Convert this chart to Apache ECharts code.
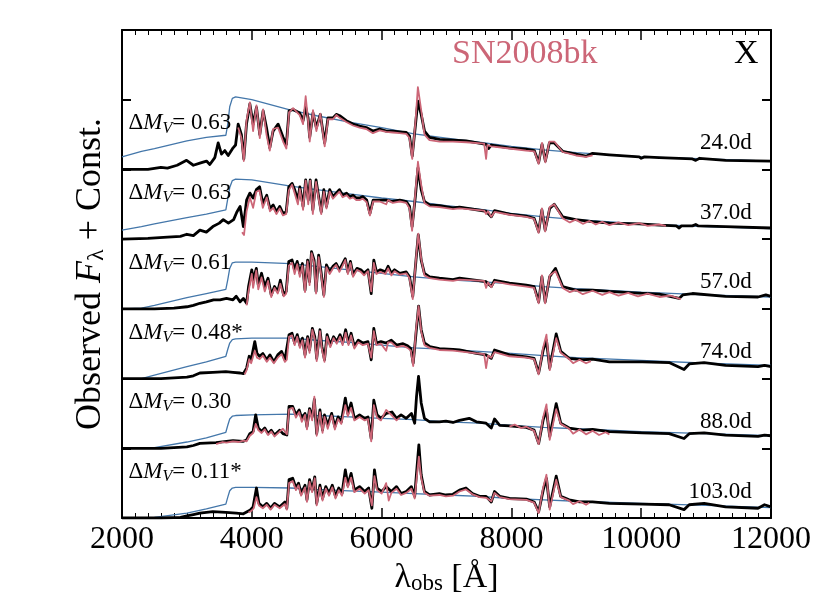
<!DOCTYPE html>
<html><head><meta charset="utf-8">
<script src="https://cdn.jsdelivr.net/npm/echarts@6/dist/echarts.min.js"></script>
<style>html,body{margin:0;padding:0;background:#fff}#c{width:814px;height:610px}</style>
</head><body><div id="c"></div>
<script>
// ---- labels ----
const EPOCHS = ['24.0d','37.0d','57.0d','74.0d','88.0d','103.0d'];
const DMV = ['0.63','0.63','0.61','0.48*','0.30','0.11*'];
const OFFSETS = [5,4,3,2,1,0];
const X_MIN = 2000, X_MAX = 12000, X_STEP = 2000;

// ---- continuum (blue), common wavelength grid ----
const BB_WL = [2000,2300,2500,3000,3300,3600,3630,3660,3700,3750,4000,4600,5000,5500,6000,6500,7000,7500,8000,8500,9000,10000,11000,12000];
const BB_24  = [0.18,0.26,0.30,0.41,0.46,0.49,0.65,0.90,1.02,1.04,1.00,0.85,0.77,0.68,0.60,0.51,0.45,0.39,0.33,0.28,0.24,0.18,0.15,0.12];
const BB_37  = [0.13,0.18,0.22,0.31,0.36,0.42,0.58,0.74,0.84,0.86,0.85,0.76,0.71,0.65,0.59,0.54,0.48,0.43,0.37,0.32,0.28,0.22,0.18,0.15];
const BB_57  = [0.00,0.01,0.05,0.16,0.22,0.28,0.42,0.58,0.66,0.67,0.67,0.65,0.61,0.56,0.51,0.46,0.42,0.39,0.36,0.32,0.29,0.24,0.20,0.17];
const BB_74  = [0.00,0.00,0.05,0.17,0.24,0.32,0.42,0.51,0.56,0.57,0.58,0.58,0.55,0.52,0.48,0.44,0.42,0.39,0.36,0.33,0.30,0.26,0.22,0.19];
const BB_88  = [0.00,0.00,0.01,0.09,0.15,0.23,0.33,0.42,0.46,0.47,0.48,0.49,0.47,0.45,0.43,0.41,0.38,0.36,0.33,0.30,0.28,0.24,0.21,0.18];
const BB_103 = [0.00,0.00,0.01,0.07,0.13,0.20,0.30,0.39,0.43,0.44,0.44,0.43,0.41,0.39,0.37,0.35,0.33,0.31,0.28,0.26,0.24,0.21,0.18,0.15];

// ---- observed spectra (black) [wavelength, flux above baseline] ----
const OBS_24 = [[2000,0.00],[2400,0.00],[2600,0.03],[2700,0.02],[2850,0.06],[2995,0.13],[3100,0.06],[3200,0.09],[3302,0.12],[3353,0.07],[3430,0.17],[3482,0.38],[3533,0.22],[3584,0.27],[3636,0.20],[3712,0.31],[3750,0.35],[3790,0.65],[3840,0.50],[3877,0.15],[3918,0.65],[3970,0.94],[4020,0.65],[4072,0.89],[4123,0.50],[4174,0.84],[4226,0.60],[4277,0.31],[4328,0.55],[4405,0.65],[4482,0.46],[4533,0.36],[4574,0.84],[4636,0.86],[4738,0.81],[4790,0.70],[4830,0.89],[4867,0.74],[4892,0.46],[4943,0.81],[4995,0.60],[5056,0.79],[5123,0.38],[5174,0.74],[5251,0.74],[5302,0.79],[5354,0.77],[5456,0.70],[5559,0.65],[5661,0.62],[5764,0.60],[5866,0.55],[5969,0.58],[6072,0.55],[6174,0.55],[6277,0.54],[6380,0.53],[6430,0.48],[6472,0.19],[6523,0.65],[6559,0.98],[6610,0.79],[6661,0.55],[6738,0.46],[6892,0.43],[7097,0.42],[7303,0.41],[7610,0.36],[7650,0.30],[7690,0.35],[7969,0.31],[8226,0.29],[8354,0.27],[8420,0.10],[8472,0.36],[8523,0.12],[8585,0.38],[8661,0.38],[8790,0.26],[8995,0.22],[9149,0.19],[9251,0.23],[9508,0.21],[9969,0.18],[10000,0.16],[10050,0.18],[10277,0.17],[10790,0.15],[10840,0.13],[10900,0.16],[11303,0.13],[12000,0.12]];
const OBS_37 = [[2000,0.00],[2400,0.01],[2700,0.03],[2900,0.04],[3000,0.07],[3100,0.05],[3200,0.13],[3300,0.10],[3400,0.18],[3500,0.23],[3560,0.28],[3640,0.23],[3720,0.28],[3770,0.39],[3820,0.47],[3870,0.18],[3920,0.56],[3970,0.66],[4020,0.59],[4070,0.71],[4120,0.75],[4170,0.51],[4230,0.63],[4280,0.44],[4330,0.49],[4380,0.39],[4430,0.47],[4480,0.37],[4530,0.39],[4570,0.75],[4620,0.80],[4660,0.71],[4710,0.56],[4740,0.75],[4790,0.47],[4830,0.85],[4870,0.56],[4900,0.85],[4940,0.42],[4990,0.85],[5030,0.61],[5070,0.39],[5110,0.71],[5150,0.47],[5200,0.71],[5250,0.61],[5300,0.66],[5350,0.71],[5400,0.63],[5460,0.66],[5510,0.61],[5560,0.63],[5610,0.59],[5660,0.59],[5710,0.61],[5770,0.56],[5820,0.37],[5870,0.56],[5970,0.56],[6070,0.56],[6170,0.54],[6280,0.56],[6380,0.54],[6430,0.47],[6470,0.18],[6520,0.61],[6560,1.02],[6610,0.71],[6660,0.54],[6740,0.49],[6890,0.48],[7100,0.45],[7200,0.46],[7610,0.40],[7690,0.32],[7740,0.41],[7970,0.36],[8230,0.33],[8350,0.30],[8420,0.11],[8470,0.42],[8520,0.13],[8590,0.44],[8660,0.50],[8790,0.32],[8990,0.28],[9250,0.25],[9510,0.23],[9970,0.22],[10280,0.20],[10540,0.19],[10585,0.16],[10620,0.19],[10790,0.19],[10840,0.21],[10880,0.19],[11300,0.18],[12000,0.16]];
const OBS_57 = [[2000,0.00],[2500,0.00],[2800,0.01],[3000,0.03],[3100,0.05],[3200,0.08],[3300,0.10],[3410,0.13],[3510,0.13],[3610,0.15],[3710,0.13],[3760,0.18],[3820,0.10],[3870,0.15],[3920,0.08],[3950,0.32],[4000,0.56],[4020,0.41],[4070,0.58],[4100,0.34],[4150,0.51],[4200,0.32],[4250,0.44],[4300,0.20],[4350,0.32],[4400,0.25],[4440,0.41],[4490,0.20],[4530,0.25],[4570,0.68],[4620,0.70],[4660,0.56],[4700,0.68],[4740,0.51],[4780,0.65],[4820,0.27],[4860,0.70],[4890,0.39],[4920,0.82],[4960,0.70],[4990,0.25],[5030,0.77],[5070,0.51],[5110,0.20],[5150,0.63],[5200,0.53],[5250,0.61],[5300,0.65],[5350,0.56],[5400,0.65],[5440,0.72],[5480,0.53],[5520,0.68],[5560,0.49],[5620,0.58],[5680,0.56],[5730,0.51],[5790,0.56],[5840,0.22],[5880,0.70],[5920,0.53],[5980,0.56],[6060,0.53],[6100,0.61],[6150,0.51],[6200,0.56],[6280,0.51],[6380,0.53],[6430,0.46],[6480,0.18],[6530,0.70],[6565,1.06],[6610,0.70],[6660,0.51],[6740,0.46],[6890,0.44],[7100,0.42],[7200,0.44],[7610,0.39],[7690,0.32],[7740,0.41],[7970,0.37],[8230,0.34],[8350,0.32],[8420,0.10],[8470,0.46],[8520,0.10],[8590,0.46],[8680,0.58],[8790,0.32],[8990,0.27],[9250,0.27],[9510,0.25],[9870,0.23],[10280,0.21],[10585,0.15],[10640,0.20],[10790,0.22],[11300,0.18],[11800,0.17],[11920,0.20],[12000,0.18]];
const OBS_74 = [[2000,0.00],[2600,0.00],[3000,0.02],[3100,0.04],[3200,0.08],[3400,0.09],[3600,0.10],[3710,0.09],[3820,0.08],[3870,0.07],[3920,0.15],[3960,0.32],[3990,0.27],[4046,0.53],[4080,0.36],[4120,0.32],[4170,0.36],[4230,0.27],[4280,0.34],[4340,0.24],[4400,0.34],[4460,0.39],[4510,0.27],[4540,0.29],[4574,0.63],[4620,0.65],[4660,0.51],[4700,0.63],[4740,0.48],[4780,0.58],[4820,0.34],[4860,0.60],[4890,0.41],[4933,0.72],[4970,0.60],[5000,0.29],[5050,0.70],[5080,0.46],[5120,0.27],[5160,0.63],[5210,0.48],[5260,0.60],[5310,0.53],[5360,0.63],[5400,0.51],[5446,0.70],[5490,0.51],[5530,0.65],[5580,0.46],[5640,0.55],[5710,0.51],[5790,0.53],[5840,0.27],[5880,0.72],[5920,0.51],[5990,0.53],[6070,0.51],[6150,0.55],[6230,0.48],[6330,0.50],[6400,0.47],[6450,0.43],[6487,0.22],[6530,0.65],[6570,1.04],[6610,0.70],[6660,0.51],[6740,0.46],[6890,0.43],[7100,0.42],[7200,0.41],[7460,0.36],[7610,0.34],[7690,0.29],[7740,0.41],[7970,0.34],[8230,0.31],[8350,0.29],[8420,0.08],[8490,0.41],[8540,0.55],[8590,0.15],[8690,0.64],[8760,0.39],[8890,0.29],[9100,0.27],[9250,0.28],[9510,0.24],[10020,0.24],[10430,0.23],[10660,0.13],[10740,0.21],[10970,0.23],[11300,0.19],[11800,0.17],[11900,0.19],[12000,0.17]];
const OBS_88 = [[2000,0.00],[2600,0.00],[3000,0.02],[3100,0.04],[3200,0.07],[3450,0.08],[3610,0.10],[3710,0.11],[3870,0.10],[3920,0.12],[3970,0.21],[4020,0.24],[4060,0.48],[4100,0.29],[4150,0.24],[4200,0.29],[4250,0.21],[4300,0.26],[4350,0.19],[4430,0.26],[4480,0.21],[4540,0.19],[4574,0.60],[4630,0.60],[4680,0.48],[4730,0.55],[4770,0.43],[4820,0.50],[4850,0.31],[4890,0.57],[4930,0.45],[4964,0.70],[5000,0.21],[5050,0.55],[5090,0.26],[5120,0.48],[5170,0.33],[5230,0.50],[5280,0.31],[5330,0.45],[5380,0.38],[5441,0.72],[5480,0.50],[5530,0.65],[5580,0.43],[5660,0.48],[5740,0.43],[5790,0.45],[5840,0.14],[5880,0.69],[5930,0.48],[5990,0.43],[6070,0.50],[6160,0.52],[6230,0.43],[6300,0.48],[6380,0.43],[6460,0.50],[6510,0.36],[6538,0.74],[6569,1.03],[6610,0.65],[6660,0.43],[6740,0.38],[6890,0.38],[6990,0.39],[7100,0.37],[7200,0.40],[7350,0.43],[7460,0.38],[7610,0.36],[7690,0.29],[7740,0.42],[7820,0.33],[7970,0.32],[8230,0.30],[8350,0.26],[8420,0.07],[8490,0.41],[8540,0.55],[8590,0.17],[8690,0.64],[8760,0.36],[8890,0.29],[9100,0.26],[9250,0.27],[9510,0.24],[10020,0.22],[10430,0.21],[10660,0.14],[10740,0.21],[10970,0.22],[11300,0.19],[11800,0.17],[11900,0.19],[12000,0.18]];
const OBS_103 = [[2000,0.00],[2600,0.00],[2900,0.01],[3000,0.03],[3100,0.05],[3200,0.07],[3400,0.09],[3600,0.08],[3760,0.07],[3870,0.06],[3970,0.11],[4020,0.16],[4072,0.43],[4110,0.21],[4170,0.16],[4230,0.21],[4290,0.14],[4350,0.21],[4430,0.16],[4510,0.23],[4540,0.14],[4574,0.55],[4630,0.57],[4680,0.43],[4720,0.50],[4760,0.35],[4820,0.47],[4850,0.26],[4890,0.55],[4930,0.40],[4970,0.59],[5000,0.21],[5050,0.47],[5090,0.28],[5140,0.45],[5190,0.35],[5240,0.47],[5290,0.31],[5340,0.43],[5390,0.35],[5441,0.69],[5480,0.47],[5530,0.64],[5580,0.40],[5660,0.45],[5740,0.38],[5800,0.43],[5850,0.14],[5890,0.69],[5930,0.43],[6000,0.38],[6070,0.45],[6150,0.38],[6230,0.45],[6300,0.35],[6380,0.38],[6460,0.45],[6510,0.31],[6538,0.64],[6574,1.05],[6610,0.62],[6660,0.38],[6740,0.33],[6890,0.35],[6990,0.33],[7100,0.34],[7200,0.40],[7300,0.43],[7400,0.35],[7510,0.31],[7610,0.31],[7690,0.23],[7740,0.38],[7820,0.31],[7970,0.28],[8230,0.27],[8350,0.23],[8420,0.09],[8490,0.40],[8540,0.57],[8590,0.16],[8690,0.60],[8760,0.31],[8890,0.26],[9050,0.23],[9250,0.23],[9510,0.21],[10020,0.20],[10430,0.19],[10660,0.12],[10740,0.19],[10970,0.21],[11300,0.16],[11800,0.14],[11900,0.19],[12000,0.16]];

// ---- model spectra (pink) [wavelength, flux above baseline]; null = gap ----
const MOD_24 = [[3790,0.60],[3840,0.45],[3877,0.12],[3918,0.70],[3970,0.96],[4020,0.55],[4072,0.92],[4123,0.45],[4174,0.86],[4226,0.50],[4277,0.27],[4328,0.58],[4405,0.60],[4482,0.40],[4533,0.30],[4574,0.82],[4636,0.88],[4738,0.78],[4790,0.65],[4830,1.05],[4867,0.70],[4892,0.40],[4943,0.85],[4995,0.55],[5056,0.80],[5123,0.33],[5174,0.72],[5251,0.72],[5302,0.78],[5354,0.74],[5456,0.68],[5559,0.63],[5661,0.60],[5764,0.58],[5866,0.52],[5969,0.56],[6072,0.54],[6174,0.53],[6277,0.52],[6380,0.51],[6430,0.45],[6472,0.15],[6523,0.70],[6559,1.18],[6610,0.85],[6661,0.50],[6738,0.42],[6892,0.40],[7097,0.40],[7303,0.39],[7580,0.37],[7610,0.15],[7630,0.35],[7690,0.33],[7969,0.30],[8226,0.27],[8354,0.26],[8420,0.08],[8472,0.38],[8523,0.10],[8585,0.40],[8661,0.40],[8790,0.25],[8995,0.20],[9149,0.18],[9251,0.20]];
const MOD_37 = [[3850,0.10],[3880,0.06],[3920,0.40],[3970,0.60],[4020,0.45],[4070,0.68],[4120,0.70],[4170,0.45],[4230,0.60],[4280,0.40],[4330,0.45],[4380,0.36],[4430,0.44],[4480,0.34],[4530,0.36],[4570,0.70],[4620,0.78],[4660,0.66],[4710,0.50],[4740,0.72],[4790,0.42],[4830,0.84],[4870,0.50],[4900,0.84],[4940,0.36],[4990,0.82],[5030,0.58],[5070,0.36],[5110,0.68],[5150,0.44],[5200,0.68],[5250,0.58],[5300,0.63],[5350,0.68],[5400,0.60],[5460,0.63],[5510,0.58],[5560,0.60],[5610,0.56],[5660,0.56],[5710,0.58],[5770,0.53],[5820,0.34],[5870,0.54],[5970,0.54],[6070,0.50],[6100,0.56],[6170,0.52],[6280,0.54],[6380,0.52],[6430,0.44],[6470,0.12],[6520,0.66],[6560,1.11],[6610,0.78],[6660,0.52],[6740,0.47],[6890,0.46],[7100,0.43],[7200,0.44],[7580,0.41],[7610,0.36],[7640,0.40],[7690,0.32],[7740,0.39],[7970,0.35],[8230,0.32],[8350,0.29],[8420,0.09],[8470,0.44],[8520,0.11],[8590,0.46],[8660,0.50],[8790,0.30],[8900,0.24],[8990,0.28],[9100,0.22],[9200,0.26],[9300,0.21],[9400,0.25],[9510,0.20],[9650,0.24],[9800,0.20],[9970,0.23],[10100,0.19],[10280,0.21],[10380,0.19]];
const MOD_57 = [[3920,0.05],[3950,0.25],[4000,0.50],[4020,0.30],[4070,0.55],[4100,0.28],[4150,0.45],[4200,0.25],[4250,0.40],[4300,0.17],[4350,0.30],[4400,0.22],[4440,0.36],[4490,0.18],[4530,0.22],[4570,0.62],[4620,0.66],[4660,0.50],[4700,0.64],[4740,0.46],[4780,0.62],[4820,0.24],[4860,0.68],[4890,0.34],[4920,0.80],[4960,0.66],[4990,0.22],[5030,0.74],[5070,0.48],[5110,0.17],[5150,0.60],[5200,0.50],[5250,0.58],[5300,0.63],[5350,0.53],[5400,0.62],[5440,0.70],[5480,0.50],[5520,0.66],[5560,0.46],[5620,0.56],[5680,0.53],[5730,0.48],[5790,0.54],[5840,0.25],[5880,0.66],[5920,0.50],[5980,0.53],[6060,0.50],[6100,0.58],[6150,0.48],[6200,0.54],[6280,0.49],[6380,0.51],[6430,0.44],[6480,0.14],[6530,0.72],[6565,1.08],[6610,0.72],[6660,0.48],[6740,0.44],[6890,0.42],[7100,0.40],[7200,0.42],[7580,0.40],[7610,0.30],[7640,0.38],[7690,0.31],[7740,0.39],[7970,0.35],[8230,0.32],[8350,0.30],[8420,0.08],[8470,0.48],[8520,0.08],[8590,0.48],[8680,0.54],[8790,0.30],[8900,0.24],[8990,0.27],[9100,0.21],[9250,0.26],[9400,0.20],[9510,0.24],[9650,0.19],[9800,0.23],[9950,0.18],[10100,0.22],[10280,0.17],[10450,0.19],[10610,0.14]];
const MOD_74 = [[3890,0.06],[3920,0.12],[3960,0.28],[3990,0.22],[4046,0.40],[4080,0.30],[4120,0.28],[4170,0.33],[4230,0.24],[4280,0.30],[4340,0.22],[4400,0.30],[4460,0.35],[4510,0.24],[4540,0.27],[4574,0.60],[4620,0.62],[4660,0.48],[4700,0.60],[4740,0.44],[4780,0.55],[4820,0.30],[4860,0.58],[4890,0.37],[4933,0.70],[4970,0.56],[5000,0.25],[5050,0.68],[5080,0.42],[5120,0.24],[5160,0.60],[5210,0.45],[5260,0.58],[5310,0.50],[5360,0.60],[5400,0.48],[5446,0.66],[5490,0.48],[5530,0.62],[5580,0.43],[5640,0.52],[5710,0.48],[5790,0.50],[5840,0.30],[5880,0.68],[5920,0.48],[5990,0.50],[6070,0.40],[6100,0.52],[6150,0.52],[6230,0.45],[6330,0.47],[6400,0.44],[6450,0.40],[6487,0.18],[6530,0.70],[6570,1.04],[6610,0.68],[6660,0.48],[6740,0.44],[6890,0.41],[7100,0.40],[7200,0.39],[7460,0.36],[7580,0.35],[7610,0.15],[7640,0.33],[7690,0.30],[7740,0.38],[7970,0.32],[8230,0.30],[8350,0.28],[8420,0.06],[8490,0.45],[8540,0.63],[8590,0.12],[8690,0.58],[8760,0.37],[8890,0.28],[8950,0.22],[9050,0.27],[9150,0.22],[9225,0.25]];
const MOD_88 = [[3450,0.06],[3550,0.09],[3610,0.08],[3710,0.10],[3800,0.09],[3870,0.11],[3920,0.10],[3970,0.18],[4020,0.22],[4060,0.35],[4100,0.26],[4150,0.22],[4200,0.27],[4250,0.19],[4300,0.24],[4350,0.17],[4430,0.24],[4480,0.28],[4540,0.20],[4574,0.56],[4630,0.58],[4680,0.44],[4730,0.52],[4770,0.38],[4820,0.48],[4850,0.27],[4890,0.55],[4930,0.40],[4964,0.74],[5000,0.18],[5050,0.52],[5090,0.22],[5120,0.45],[5170,0.28],[5230,0.47],[5280,0.27],[5330,0.42],[5380,0.35],[5441,0.62],[5480,0.46],[5530,0.58],[5580,0.40],[5660,0.45],[5740,0.40],[5790,0.42],[5840,0.10],[5880,0.62],[5930,0.44],[5990,0.40],[6070,0.55],[6160,0.47],[6230,0.40],[6280,0.44],[7000,null],[7970,0.31],[8050,0.34],[8150,0.29],[8230,0.31],[8350,0.25],[8420,0.06],[8490,0.45],[8540,0.63],[8590,0.12],[8690,0.56],[8760,0.35],[8890,0.28],[8950,0.21],[9050,0.27],[9150,0.20],[9250,0.25],[9350,0.19],[9450,0.23],[9510,0.20]];
const MOD_103 = [[3950,0.08],[3990,0.10],[4030,0.14],[4072,0.30],[4110,0.18],[4170,0.14],[4230,0.19],[4290,0.12],[4350,0.19],[4430,0.14],[4510,0.20],[4540,0.12],[4574,0.50],[4630,0.53],[4680,0.40],[4720,0.47],[4760,0.32],[4820,0.44],[4850,0.23],[4890,0.52],[4930,0.37],[4970,0.57],[5000,0.18],[5050,0.44],[5090,0.25],[5140,0.42],[5190,0.32],[5240,0.44],[5290,0.28],[5340,0.40],[5390,0.32],[5441,0.58],[5480,0.44],[5530,0.58],[5580,0.37],[5660,0.42],[5740,0.35],[5800,0.40],[5850,0.18],[5890,0.60],[5930,0.40],[6000,0.35],[6070,0.50],[6110,0.25],[6150,0.36],[6230,0.42],[6300,0.33],[6380,0.36],[6460,0.42],[6510,0.28],[6538,0.55],[6574,0.88],[6610,0.58],[6660,0.36],[6740,0.32],[6890,0.33],[6990,0.31],[7100,0.32],[7200,0.38],[7300,0.41],[7400,0.34],[7510,0.30],[7610,0.29],[7690,0.24],[7740,0.36],[7820,0.30],[7970,0.27],[8230,0.26],[8350,0.22],[8420,0.07],[8490,0.44],[8540,0.62],[8590,0.12],[8690,0.55],[8760,0.30],[8890,0.25],[8950,0.20],[9050,0.24],[9150,0.19],[9200,0.22]];

// label anchor positions in data units
const DMV_LABEL_X = 2092, DMV_LABEL_DY = 0.66;
const EPOCH_LABEL_X = 11710, EPOCH_LABEL_DY = 0.38;

const OBS = [OBS_24, OBS_37, OBS_57, OBS_74, OBS_88, OBS_103];
const MOD = [MOD_24, MOD_37, MOD_57, MOD_74, MOD_88, MOD_103];
const BB  = [BB_24, BB_37, BB_57, BB_74, BB_88, BB_103];

const FONT = "'Liberation Serif','Times New Roman',serif";
const PINK = '#cc6677', BLUE = '#4477aa';

function shift(arr, off){ return arr.map(p => [p[0], p[1] === null ? '-' : +(p[1] + off).toFixed(3)]); }

const series = [];
OFFSETS.forEach((off, i) => {
  series.push({type:'line', data: BB_WL.map((w,k)=>[w, +(BB[i][k]+off).toFixed(3)]), showSymbol:false, silent:true,
    lineStyle:{color:BLUE, width:1.3}, z:2});
});
OFFSETS.forEach((off, i) => {
  series.push({type:'line', data: shift(OBS[i], off), showSymbol:false, silent:true,
    lineStyle:{color:'#000', width:2.8, join:'round'}, z:3});
});
OFFSETS.forEach((off, i) => {
  series.push({type:'line', data: shift(MOD[i], off), showSymbol:false, silent:true, connectNulls:false,
    lineStyle:{color:PINK, width:1.8, join:'round'}, z:4});
});
const richLbl = {
  n:{fontFamily:FONT, fontSize:23, color:'#000'},
  i:{fontFamily:FONT, fontSize:23, fontStyle:'italic', color:'#000'},
  s:{fontFamily:FONT, fontSize:16, fontStyle:'italic', color:'#000', padding:[10,0,0,0]}
};
series.push({type:'scatter', symbolSize:1, itemStyle:{color:'transparent', opacity:1}, silent:true, z:6,
  data: OFFSETS.map((off,i)=>({value:[DMV_LABEL_X, off+DMV_LABEL_DY], name:DMV[i]})),
  label:{show:true, position:'right', distance:0, opacity:1, formatter: p => '{n|Δ}{i|M}{s|V}{n|= ' + p.name + '}', rich: richLbl}
});
series.push({type:'scatter', symbolSize:1, itemStyle:{color:'transparent', opacity:1}, silent:true, z:6,
  data: OFFSETS.map((off,i)=>({value:[EPOCH_LABEL_X, off+EPOCH_LABEL_DY], name:EPOCHS[i]})),
  label:{show:true, position:'left', distance:0, opacity:1, formatter: p => p.name, fontFamily:FONT, fontSize:23, color:'#000'}
});

const axisCommonX = {
  type:'value', min:X_MIN, max:X_MAX, interval:X_STEP,
  axisLine:{show:true, onZero:false, lineStyle:{color:'#000', width:2}},
  axisTick:{show:true, inside:true, length:10, lineStyle:{color:'#000', width:1.5}},
  minorTick:{show:true, splitNumber:10, length:5, lineStyle:{color:'#000', width:1}},
  splitLine:{show:false}, minorSplitLine:{show:false}
};
const axisCommonY = {
  type:'value', min:0, max:7, interval:1,
  axisLine:{show:true, onZero:false, lineStyle:{color:'#000', width:2}},
  axisTick:{show:true, inside:true, length:9, lineStyle:{color:'#000', width:2}},
  axisLabel:{show:false}, splitLine:{show:false}
};

const option = {
  animation:false,
  backgroundColor:'#fff',
  grid:{left:122, right:42, top:30, bottom:92},
  title:[
    {text:'SN2008bk', left:447, top:32, textStyle:{fontFamily:FONT, fontSize:34, fontWeight:'normal', color:PINK}},
    {text:'X', left:729, top:32, textStyle:{fontFamily:FONT, fontSize:34, fontWeight:'normal', color:'#000'}}
  ],
  xAxis:[
    Object.assign({}, axisCommonX, {position:'bottom',
      axisLabel:{show:true, margin:6, fontFamily:FONT, fontSize:32, color:'#000', formatter: v => String(v)},
      name:'{l|λ}{s|obs}{n| [Å]}', nameLocation:'middle', nameGap:38,
      nameTextStyle:{rich:{
        l:{fontFamily:FONT, fontSize:34, color:'#000'},
        s:{fontFamily:FONT, fontSize:23, color:'#000', padding:[12,0,0,0]},
        n:{fontFamily:FONT, fontSize:34, color:'#000'}
      }}}),
    Object.assign({}, axisCommonX, {position:'top', axisLabel:{show:false}})
  ],
  yAxis:[
    Object.assign({}, axisCommonY, {position:'left',
      name:'{n|Observed }{i|F}{s|λ}{n| + Const.}', nameLocation:'middle', nameGap:13, nameRotate:90,
      nameTextStyle:{rich:{
        n:{fontFamily:FONT, fontSize:36, color:'#000'},
        i:{fontFamily:FONT, fontSize:36, fontStyle:'italic', color:'#000'},
        s:{fontFamily:FONT, fontSize:24, color:'#000', padding:[13,0,0,0]}
      }}}),
    Object.assign({}, axisCommonY, {position:'right'})
  ],
  series: series
};
const chart = echarts.init(document.getElementById('c'), null, {renderer:'canvas'});
chart.setOption(option);
</script></body></html>
